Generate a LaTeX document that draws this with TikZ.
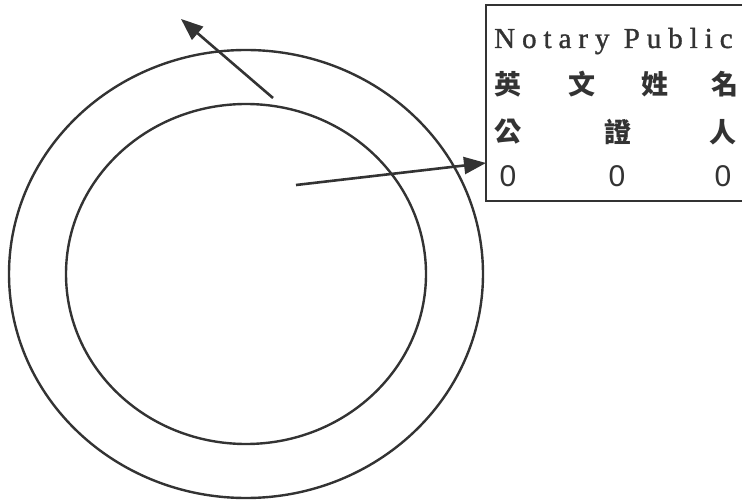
\documentclass[tikz,border=0pt]{standalone}
\usepackage{fontspec}
\setmainfont{Liberation Serif}
\newfontfamily\cjk{Noto Sans CJK TC}
\newfontfamily\digitfont{Liberation Sans}
\usepackage{xcolor}
\usetikzlibrary{positioning,arrows.meta}
\definecolor{ink}{HTML}{333333}
\tikzset{
  ring/.style={draw=ink, line width=2.4pt},
  pointer/.style={draw=ink, line width=2.6pt, -{Triangle[length=22pt,width=17pt]}},
  cell/.style={inner sep=0pt, text=ink, font=\cjk\bfseries\fontsize{27}{27}\selectfont},
  digit/.style={inner sep=0pt, text=ink, font=\digitfont\fontsize{30}{30}\selectfont},
}

\begin{document}
\begin{tikzpicture}[x=1pt, y=-1pt]
  % 1pt = 1px of the 742x500 frame, y runs down
  \useasboundingbox (0,0) rectangle (742,500);
  % two rings round the same centre
  \coordinate (c) at (246,274);
  \draw[ring] (c) ellipse [x radius=237, y radius=224];
  \draw[ring] (c) ellipse [x radius=180, y radius=170];
  % card, its right side runs off the page
  \node[anchor=north west, minimum width=256pt, minimum height=196pt, inner sep=0pt] (card) at (486,5) {};
  \draw[ink, line width=2pt] (card.north east) -- (card.north west) -- (card.south west) -- (card.south east);
  % rows of the card
  \node[anchor=base west, inner sep=0pt, text=ink, font=\fontsize{29}{29}\selectfont\addfontfeatures{LetterSpace=24,FakeBold=1.2}] (title) at (494,48) {Notary Public};
  \node[cell] (ying) at (508,84) {英};
  \node[cell] (wen) at (582,84) {文};
  \node[cell] (xing) at (655,84) {姓};
  \node[cell] (ming) at (725,84) {名};
  \node[cell] (gong) at (508,132) {公};
  \node[cell] (zheng) at (618,132) {證};
  \node[cell] (ren) at (723,132) {人};
  \node[digit] (zeroa) at (508,176) {0};
  \node[digit] (zerob) at (617,176) {0};
  \node[digit] (zeroc) at (723,176) {0};
  % pointers
  \coordinate (up) at (273,98);
  \coordinate (upend) at (181,19);
  \draw[pointer] (up) -- (upend);
  \coordinate (mid) at (296,185);
  \draw[pointer] (mid) -- (card.205);
\end{tikzpicture}
\end{document}
